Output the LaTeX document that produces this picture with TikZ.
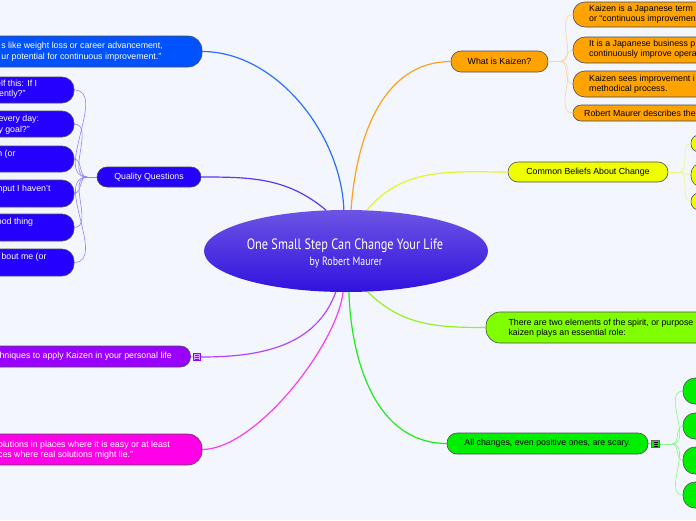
\documentclass[tikz,border=0pt]{standalone}
\usepackage{fontspec}
\setmainfont{Liberation Sans}
\newfontfamily\titlefont[FakeStretch=0.82]{PT Sans}
\usetikzlibrary{shapes.geometric}
\definecolor{bg}{RGB}{243,246,253}
\definecolor{boxline}{RGB}{75,75,85}
\definecolor{cblue}{RGB}{0,82,255}
\definecolor{cqq}{RGB}{38,0,255}
\definecolor{cpurple}{RGB}{153,0,255}
\definecolor{cmag}{RGB}{255,0,232}
\definecolor{corange}{RGB}{255,163,0}
\definecolor{cyellow}{RGB}{240,255,0}
\definecolor{cchart}{RGB}{128,255,0}
\definecolor{cgreen}{RGB}{0,238,0}
\definecolor{eblue}{RGB}{45,110,255}
\definecolor{eqq}{RGB}{95,55,240}
\definecolor{epurple}{RGB}{175,70,255}
\definecolor{emag}{RGB}{255,60,230}
\definecolor{eorange}{RGB}{255,160,30}
\definecolor{eyellow}{RGB}{232,245,40}
\definecolor{echart}{RGB}{150,240,40}
\definecolor{egreen}{RGB}{30,235,30}
\definecolor{lqq}{RGB}{150,130,255}
\definecolor{lorange}{RGB}{255,210,160}
\definecolor{lyellow}{RGB}{240,245,130}
\definecolor{lgreen}{RGB}{140,245,140}
\definecolor{elltop}{RGB}{108,84,228}
\definecolor{ellbot}{RGB}{48,18,222}

% \pill{name}{x1}{y1}{x2}{y2}{fill}{radius}
\newcommand\pill[7]{\node[pillbox, fill=#6, rounded corners=#7pt,
  minimum width={(#4)-(#2)}, minimum height={(#5)-(#3)}]
  (#1) at ({((#2)+(#4))/2},{((#3)+(#5))/2}) {};}

\begin{document}
\begin{tikzpicture}[x=1pt,y=-1pt,
  pillbox/.style={draw=boxline, line width=0.6pt, inner sep=0pt, outer sep=0pt},
  lbl/.style={inner sep=0pt, align=left, font=\fontsize{8.8}{10.3}\selectfont},
  wlbl/.style={lbl, text=white},
  mainedge/.style={line width=1.2pt},
  subedge/.style={line width=0.6pt},
  iconbox/.style={minimum size=7.5pt, inner sep=0pt, line width=0.6pt},
]
\fill[bg] (0,0) rectangle (696,520);
\useasboundingbox (0,0) rectangle (696,520);
\clip (0,0) rectangle (696,520);

% ---------- boxes ----------
\pill{blue}{-40}{36}{202}{67}{cblue}{14}
\pill{qq}{97}{167}{201}{187}{cqq}{10}
\pill{q1}{-40}{77}{74}{103}{cqq}{12}
\pill{q2}{-40}{111}{74}{137}{cqq}{12}
\pill{q3}{-40}{146}{74}{172}{cqq}{12}
\pill{q4}{-40}{180}{74}{207}{cqq}{12}
\pill{q5}{-40}{214}{74}{241}{cqq}{12}
\pill{q6}{-40}{249}{74}{276}{cqq}{12}
\pill{pb}{-40}{346}{190.5}{367}{cpurple}{10}
\pill{mg}{-40}{434}{202}{465}{cmag}{14}
\pill{wk}{451}{51}{548}{72}{corange}{10}
\pill{k1}{573}{2}{800}{27}{corange}{12}
\pill{k2}{573}{37}{800}{63}{corange}{12}
\pill{k3}{573}{71}{800}{97}{corange}{12}
\pill{k4}{573}{105}{800}{121}{corange}{8}
\pill{cb}{508}{162}{668}{182}{cyellow}{10}
\pill{y1}{691}{135}{800}{152}{cyellow}{8}
\pill{y2}{691}{163}{800}{187}{cyellow}{11}
\pill{y3}{691}{193}{800}{210}{cyellow}{8}
\pill{tw}{486}{312}{800}{343}{cchart}{14}
\pill{ac}{447}{433}{648}{454}{cgreen}{10}
\pill{g1}{683}{378}{800}{404}{cgreen}{12}
\pill{g2}{683}{413}{800}{439}{cgreen}{12}
\pill{g3}{683}{447}{800}{474}{cgreen}{12}
\pill{g4}{683}{482}{800}{508}{cgreen}{12}

% ---------- icons ----------
\node[iconbox, draw=cpurple, fill=cpurple!35!white] (picon) at (197,357) {};
\foreach \dy in {-2,0,2}
  \draw[cpurple, line width=0.6pt] ([xshift=-2pt,yshift=\dy pt]picon.center) -- ([xshift=2pt,yshift=\dy pt]picon.center);
\node[iconbox, draw=black!60, fill=cgreen] (gicon) at (655.5,444) {};
\foreach \dy in {-2,0,2}
  \draw[black, line width=0.6pt] ([xshift=-2pt,yshift=\dy pt]gicon.center) -- ([xshift=2pt,yshift=\dy pt]gicon.center);

% ---------- central ellipse ----------
\node[ellipse, minimum width=284pt, minimum height=82pt, inner sep=0pt,
  top color=elltop, bottom color=ellbot, draw=none] (ell) at (346,251) {};
\node[text=white, font=\titlefont\fontsize{15}{17}\selectfont, inner sep=0pt, anchor=base] (title) at (345,249) {One Small Step Can Change Your Life};
\node[text=white, font=\titlefont\fontsize{12}{14}\selectfont, inner sep=0pt, anchor=base] (author) at (346,265.5) {by Robert Maurer};

% ---------- main connectors ----------
\draw[mainedge, eblue] (ell.93) to[out=92,in=0,looseness=0.9] (blue.east);
\draw[mainedge, eqq] (ell.116) to[out=140,in=0] (qq.east);
\draw[mainedge, eorange] (ell.83) to[out=86,in=180] (wk.west);
\draw[mainedge, eyellow] (ell.63) to[out=50,in=180] (cb.west);
\draw[mainedge, echart] (ell.-62) to[out=-45,in=180] (tw.west);
\draw[mainedge, egreen] (ell.-86) to[out=-88,in=180] (ac.west);
\draw[mainedge, emag] (ell.-94) to[out=-97,in=0,looseness=0.65] (mg.east);
\draw[mainedge, epurple] (ell.-104) to[out=-110,in=0] (picon.east);
\draw[subedge, epurple] (pb.east) -- (picon.west);
\draw[subedge, egreen] (ac.east) -- (gicon.west);

% ---------- sub connectors ----------
\coordinate (qqj) at (87,177);
\draw[subedge, lqq] (qq.west) -- (qqj);
\foreach \n in {1,...,6} \draw[subedge, lqq] (qqj) to[out=180,in=0] (q\n.east);
\coordinate (wkj) at (560,61.5);
\draw[subedge, lorange] (wk.east) -- (wkj);
\foreach \n in {1,...,4} \draw[subedge, lorange] (wkj) to[out=0,in=180] (k\n.west);
\coordinate (cbj) at (679,172);
\draw[subedge, lyellow] (cb.east) -- (cbj);
\foreach \n in {1,...,3} \draw[subedge, lyellow] (cbj) to[out=0,in=180] (y\n.west);
\coordinate (acj) at (672,444);
\draw[subedge, lgreen] (gicon.east) -- (acj);
\foreach \n in {1,...,4} \draw[subedge, lgreen] (acj) to[out=0,in=180] (g\n.west);

% ---------- labels ----------
\node[wlbl, anchor=east] (blue-t) at (163,51.7) {s like weight loss or career advancement,\\ur potential for continuous improvement.”};
\node[wlbl] (qq-t) at (149,177) {Quality Questions};
\node[wlbl, anchor=east] (q1-t) at (37.3,89) {elf this: If I\\rently?”};
\node[wlbl, anchor=east] (q2-t) at (39.3,124.7) {every day:\\y goal?”};
\node[wlbl, anchor=east] (q3-t) at (15.7,154.3) {n (or};
\node[wlbl, anchor=east] (q4-t) at (50.7,193) {nput I haven’t\\”};
\node[wlbl, anchor=east] (q5-t) at (33.3,222.7) {ood thing};
\node[wlbl, anchor=east] (q6-t) at (46.7,257.3) {bout me (or};
\node[wlbl, anchor=east] (pb-t) at (172,356.7) {hniques to apply Kaizen in your personal life};
\node[wlbl, anchor=east] (mg-t) at (170,450) {olutions in places where it is easy or at least\\ces where real solutions might lie.”};
\node[lbl] (wk-t) at (499.5,61.5) {What is Kaizen?};
\node[lbl, anchor=west] (k1-t) at (589,14.2) {Kaizen is a Japanese term\\or “continuous improvemen};
\node[lbl, anchor=west] (k2-t) at (589,49.5) {It is a Japanese business p\\continuously improve opera};
\node[lbl, anchor=west] (k3-t) at (589,84.3) {Kaizen sees improvement i\\methodical process.};
\node[lbl, anchor=west] (k4-t) at (584,113.3) {Robert Maurer describes the};
\node[lbl] (cb-t) at (588,172) {Common Beliefs About Change};
\node[lbl, anchor=west] (tw-t) at (508.3,328.3) {There are two elements of the spirit, or purpose\\kaizen plays an essential role:};
\node[lbl] (ac-t) at (547.5,443.5) {All changes, even positive ones, are scary.};
\end{tikzpicture}
\end{document}
